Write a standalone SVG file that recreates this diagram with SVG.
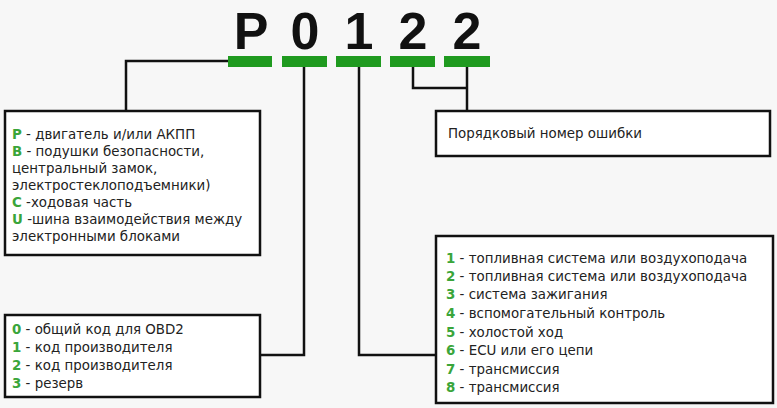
<svg xmlns="http://www.w3.org/2000/svg" width="777" height="408" viewBox="0 0 777 408">
<style>
.box{fill:#fff;stroke:#111;stroke-width:2.5}
.ln{fill:none;stroke:#111;stroke-width:2.5}
.bar{fill:#1f9a1f}
.t{font-family:"DejaVu Sans",Verdana,sans-serif;font-size:13.4px;fill:#222}
.g{fill:#3aa53a;font-weight:bold}
.big{font-family:"Liberation Sans",Arial,sans-serif;font-size:52px;font-weight:bold;fill:#111;text-anchor:middle}
</style>
<rect width="777" height="408" fill="#f7f7f7"/>
<g id="code">
<text class="big" x="251" y="49">P</text>
<text class="big" x="305" y="49">0</text>
<text class="big" x="359" y="49">1</text>
<text class="big" x="413" y="49">2</text>
<text class="big" x="467" y="49">2</text>
<rect class="bar" x="228" y="56" width="44" height="11"/>
<rect class="bar" x="282" y="56" width="45" height="11"/>
<rect class="bar" x="336" y="56" width="45" height="11"/>
<rect class="bar" x="390" y="56" width="45" height="11"/>
<rect class="bar" x="444" y="56" width="46" height="11"/>
</g>
<g id="connectors">
<path class="ln" d="M228 61H126V111"/>
<path class="ln" d="M304 67V355H260"/>
<path class="ln" d="M359 67V355H436"/>
<path class="ln" d="M413 67V88H467"/>
<path class="ln" d="M467 67V111"/>
</g>
<g id="box-letter">
<rect class="box" x="5" y="111" width="255" height="144"/>
<text class="t" x="12" y="139"><tspan class="g">P</tspan> - двигатель и/или АКПП</text>
<text class="t" x="12" y="156"><tspan class="g">B</tspan> - подушки безопасности,</text>
<text class="t" x="12" y="173">центральный замок,</text>
<text class="t" x="12" y="190">электростеклоподъемники)</text>
<text class="t" x="12" y="207"><tspan class="g">C</tspan> -ходовая часть</text>
<text class="t" x="12" y="224"><tspan class="g">U</tspan> -шина взаимодействия между</text>
<text class="t" x="12" y="241">электронными блоками</text>
</g>
<g id="box-type">
<rect class="box" x="5" y="315" width="255" height="82"/>
<text class="t" x="12" y="334"><tspan class="g">0</tspan> - общий код для OBD2</text>
<text class="t" x="12" y="352"><tspan class="g">1</tspan> - код производителя</text>
<text class="t" x="12" y="370"><tspan class="g">2</tspan> - код производителя</text>
<text class="t" x="12" y="388"><tspan class="g">3</tspan> - резерв</text>
</g>
<g id="box-system">
<rect class="box" x="436" y="236" width="337" height="167"/>
<text class="t" x="446" y="263"><tspan class="g">1</tspan> - топливная система или воздухоподача</text>
<text class="t" x="446" y="281"><tspan class="g">2</tspan> - топливная система или воздухоподача</text>
<text class="t" x="446" y="299"><tspan class="g">3</tspan> - система зажигания</text>
<text class="t" x="446" y="318"><tspan class="g">4</tspan> - вспомогательный контроль</text>
<text class="t" x="446" y="337"><tspan class="g">5</tspan> - холостой ход</text>
<text class="t" x="446" y="355"><tspan class="g">6</tspan> - ECU или его цепи</text>
<text class="t" x="446" y="374"><tspan class="g">7</tspan> - трансмиссия</text>
<text class="t" x="446" y="392"><tspan class="g">8</tspan> - трансмиссия</text>
</g>
<g id="box-serial">
<rect class="box" x="436" y="111" width="334" height="45"/>
<text class="t" x="448" y="138">Порядковый номер ошибки</text>
</g>
</svg>
